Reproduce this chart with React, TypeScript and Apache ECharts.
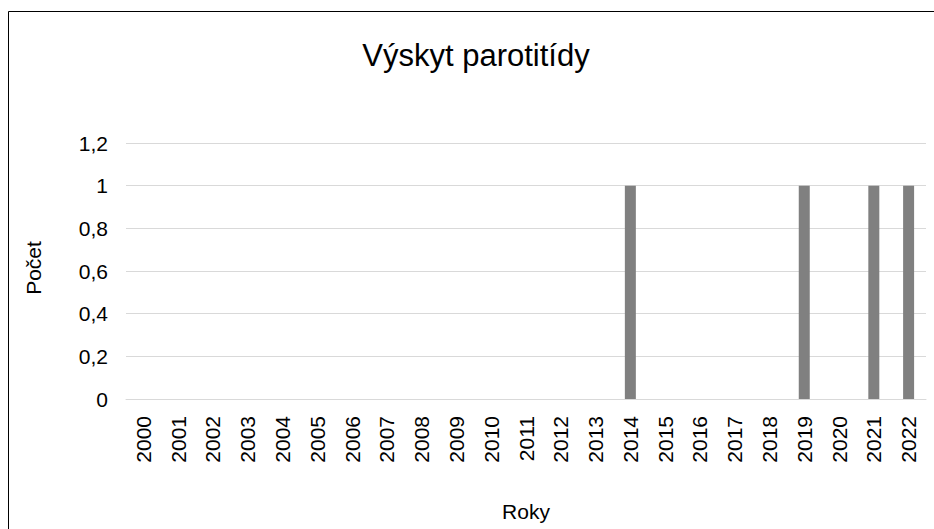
import React, { useEffect, useRef } from "react";
import * as echarts from "echarts";

const years = [
  "2000", "2001", "2002", "2003", "2004", "2005", "2006", "2007", "2008", "2009", "2010", "2011",
  "2012", "2013", "2014", "2015", "2016", "2017", "2018", "2019", "2020", "2021", "2022",
];
const counts = [0, 0, 0, 0, 0, 0, 0, 0, 0, 0, 0, 0, 0, 0, 1, 0, 0, 0, 0, 1, 0, 1, 1];
const titleText = "Výskyt parotitídy";
const yAxisName = "Počet";
const xAxisName = "Roky";

const FONT = "'Liberation Sans', Arial, sans-serif";

export default function App() {
  const ref = useRef<HTMLDivElement>(null);
  useEffect(() => {
    if (!ref.current) return;
    const chart = echarts.init(ref.current, undefined, { renderer: "svg" });
    chart.setOption({
      animation: false,
      backgroundColor: "#ffffff",
      textStyle: { fontFamily: FONT },
      grid: { left: 126, right: 8, top: 143, bottom: 130, containLabel: false },
      graphic: [
        {
          type: "polyline",
          shape: { points: [[8.5, 1000], [8.5, 11.5], [1000, 11.5]] },
          style: { fill: "none", stroke: "#000000", lineWidth: 1 },
          silent: true,
        },
        {
          type: "text",
          x: 476,
          y: 55,
          style: {
            text: titleText,
            fontSize: 31,
            fontFamily: FONT,
            fill: "#000000",
            textAlign: "center",
            textVerticalAlign: "middle",
          },
        },
        {
          type: "text",
          x: 33,
          y: 268,
          rotation: Math.PI / 2,
          style: {
            text: yAxisName,
            fontSize: 21,
            fontFamily: FONT,
            fill: "#000000",
            textAlign: "center",
            textVerticalAlign: "middle",
          },
        },
        {
          type: "text",
          x: 526,
          y: 511,
          style: {
            text: xAxisName,
            fontSize: 21,
            fontFamily: FONT,
            fill: "#000000",
            textAlign: "center",
            textVerticalAlign: "middle",
          },
        },
      ],
      xAxis: {
        type: "category",
        data: years,
        axisLine: { show: true, lineStyle: { color: "#d9d9d9", width: 1 } },
        axisTick: { show: false },
        axisLabel: {
          rotate: 90,
          interval: 0,
          margin: 17,
          fontSize: 21,
          color: "#000000",
          fontFamily: FONT,
        },
      },
      yAxis: {
        type: "value",
        min: 0,
        max: 1.2,
        interval: 0.2,
        axisLine: { show: false },
        axisTick: { show: false },
        splitLine: { show: true, lineStyle: { color: "#d9d9d9", width: 1 } },
        axisLabel: {
          margin: 18,
          fontSize: 21,
          color: "#000000",
          fontFamily: FONT,
          formatter: (v: number) => String(Math.round(v * 10) / 10).replace(".", ","),
        },
      },
      series: [
        {
          type: "bar",
          data: counts,
          barWidth: 11,
          itemStyle: { color: "#808080" },
        },
      ],
    });
    return () => chart.dispose();
  }, []);
  return (
    <div
      ref={ref}
      style={{ position: "fixed", left: 0, top: 0, width: 934, height: 529 }}
    />
  );
}
